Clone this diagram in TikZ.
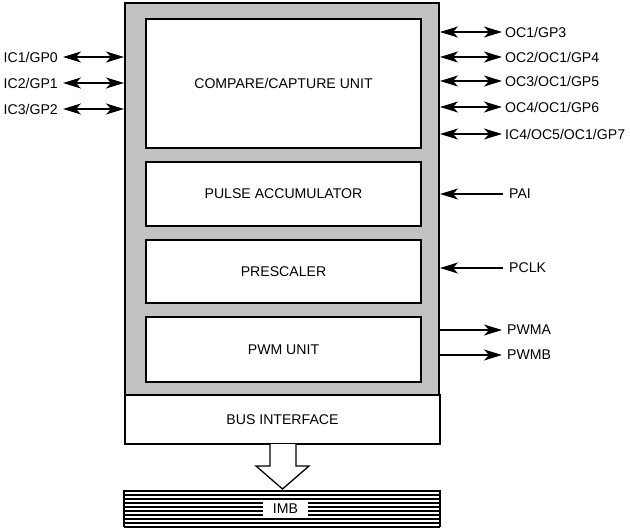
\documentclass[tikz,border=0pt]{standalone}
\usepackage{fontspec}
\setmainfont{Liberation Sans}
\usetikzlibrary{arrows.meta}
\begin{document}
\begin{tikzpicture}[x=1pt,y=-1pt,
  font=\fontsize{14.1}{16}\selectfont,
  shadebox/.style={draw, line width=2pt, fill=black!24, inner sep=0pt},
  unitbox/.style={draw, line width=2.2pt, fill=white, inner sep=0pt, minimum width=275pt},
  lablft/.style={anchor=east, inner xsep=5pt, inner ysep=0pt},
  labrgt/.style={anchor=west, inner xsep=5pt, inner ysep=0pt},
  sig/.style={line width=1.2pt, >={Stealth[length=18pt,width=11pt,inset=5pt]}},
]
\useasboundingbox (0,0) rectangle (630,532);

% outer shaded block
\node[shadebox, minimum width=314pt, minimum height=392pt] (outer) at (282,199) {};
\node[draw, line width=1.6pt, fill=white, minimum width=315pt, minimum height=49pt, inner sep=0pt] (bus) at (282.5,419.5) {BUS INTERFACE};

% inner units
\node[unitbox, minimum height=129pt] (ccu) at (283.5,83.5) {COMPARE/CAPTURE UNIT};
\node[unitbox, minimum height=64pt] (pa) at (283.5,194) {PULSE ACCUMULATOR};
\node[unitbox, minimum height=63pt] (pre) at (283.5,271.5) {PRESCALER};
\node[unitbox, minimum height=65pt] (pwm) at (283.5,349.5) {PWM UNIT};

% left signals
\node[lablft] (ic1) at (63,57) {IC1/GP0};
\node[lablft] (ic2) at (63,83) {IC2/GP1};
\node[lablft] (ic3) at (63,109) {IC3/GP2};
\foreach \n in {ic1,ic2,ic3}
  \draw[sig,<->] (\n.east) -- (\n.east -| outer.west);

% right bidirectional signals
\node[labrgt, inner xsep=3pt] (oc1) at (502,32) {OC1/GP3};
\node[labrgt, inner xsep=3pt] (oc2) at (502,57) {OC2/OC1/GP4};
\node[labrgt, inner xsep=3pt] (oc3) at (502,81) {OC3/OC1/GP5};
\node[labrgt, inner xsep=3pt] (oc4) at (502,107) {OC4/OC1/GP6};
\node[labrgt, inner xsep=3pt] (ic4) at (502,134) {IC4/OC5/OC1/GP7};
\foreach \n in {oc1,oc2,oc3,oc4,ic4}
  \draw[sig,<->] (\n.west -| outer.east) -- (\n.west);

% inputs
\node[labrgt, inner xsep=6pt] (pai) at (503,194) {PAI};
\node[labrgt, inner xsep=6pt] (pclk) at (503,268) {PCLK};
\draw[sig,->] (pai.west) -- (pai.west -| outer.east);
\draw[sig,->] (pclk.west) -- (pclk.west -| outer.east);

% outputs
\node[labrgt] (pwma) at (502,330) {PWMA};
\node[labrgt] (pwmb) at (502,355) {PWMB};
\draw[sig,->] (pwma.west -| outer.east) -- (pwma.west);
\draw[sig,->] (pwmb.west -| outer.east) -- (pwmb.west);

% IMB bus bar
\coordinate (imbtl) at (124,490);
\coordinate (imbbr) at (440,527);
\foreach \i in {0,...,9}
  \draw[line width=2.1pt] (124,{491+\i*4.0}) -- (440,{491+\i*4.0});
\draw[line width=2.8pt] (imbtl) -- (imbtl |- imbbr);
\draw[line width=2.8pt] (imbbr |- imbtl) -- (imbbr);
\node[fill=white, minimum width=45pt, minimum height=18pt, inner sep=0pt] (imb) at (285.5,508.5) {IMB};

% hollow bus arrow
\draw[line width=1.3pt, fill=white, line join=miter]
  (270,444) -- (270,466) -- (256,466) -- (282.5,489) -- (309,466) -- (296,466) -- (296,444);
\end{tikzpicture}
\end{document}
